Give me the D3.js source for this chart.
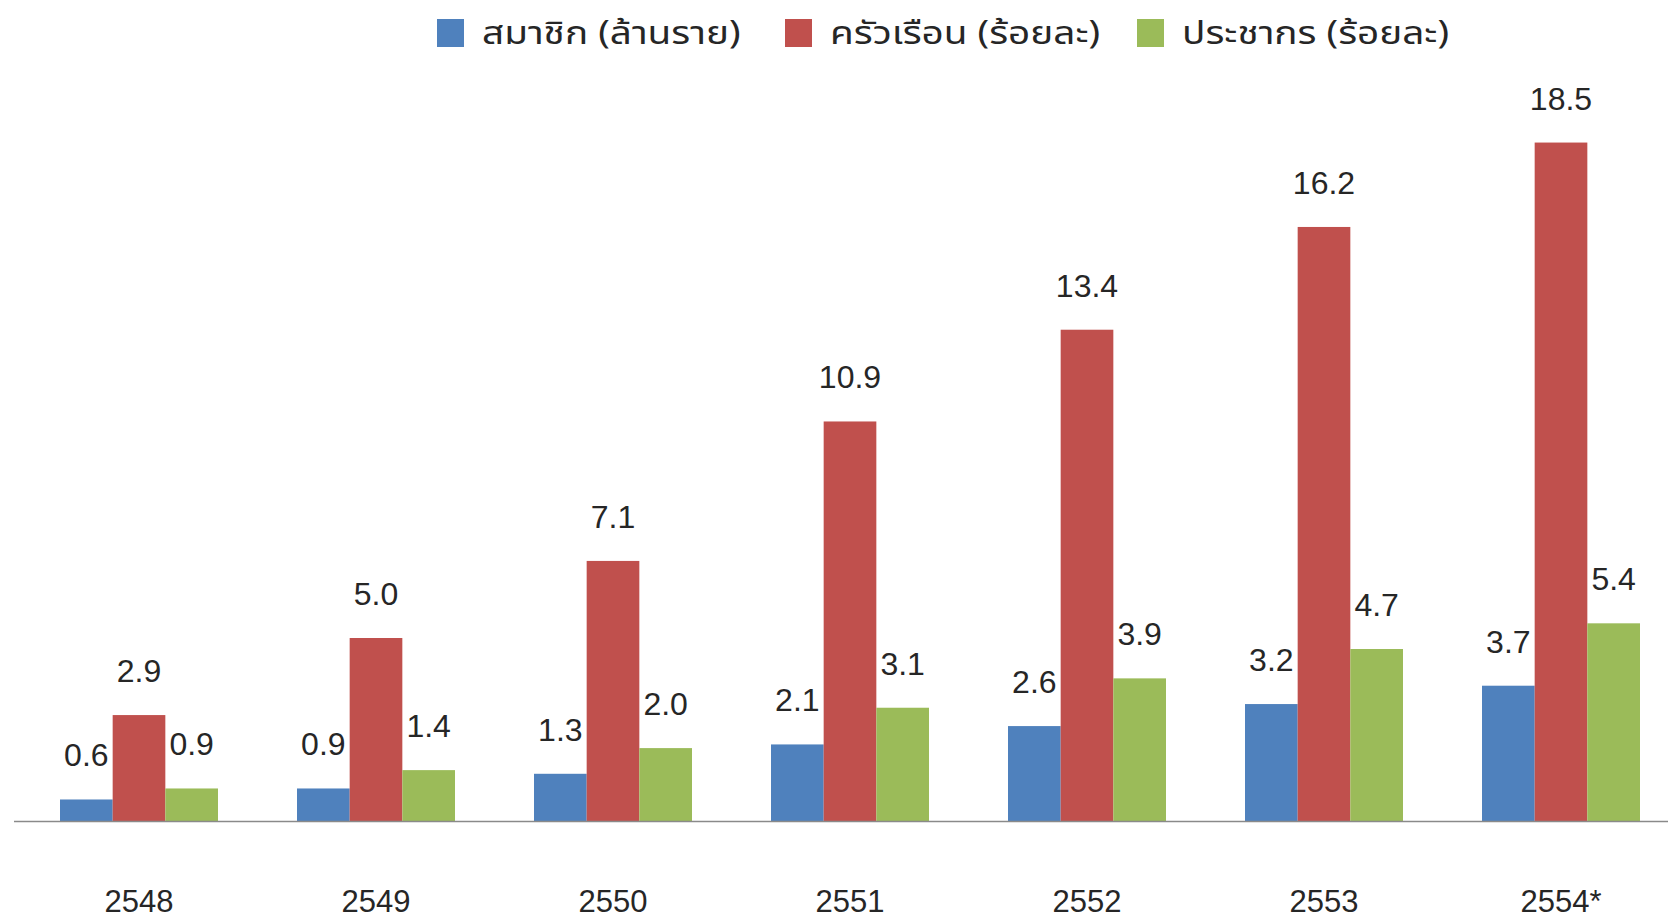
<!DOCTYPE html>
<html>
<head>
<meta charset="utf-8">
<script src="https://cdn.jsdelivr.net/npm/d3@7"></script>
<style>
  html, body { margin: 0; padding: 0; background: #fff; }
  svg { display: block; }
  text { font-family: "Liberation Sans", Arial, sans-serif; fill: #262626; }
  .legend text { font-family: "Noto Sans Thai", "Noto Sans Thai Looped", "Tahoma", "DejaVu Sans", "Noto Sans", sans-serif; }
</style>
</head>
<body>
<script>
const categories = ["2548", "2549", "2550", "2551", "2552", "2553", "2554*"];
const seriesNames = ["สมาชิก (ล้านราย)", "ครัวเรือน (ร้อยละ)", "ประชากร (ร้อยละ)"];
const members    = [0.6, 0.9, 1.3, 2.1, 2.6, 3.2, 3.7];
const households = [2.9, 5.0, 7.1, 10.9, 13.4, 16.2, 18.5];
const population = [0.9, 1.4, 2.0, 3.1, 3.9, 4.7, 5.4];
const colors = ["#4F81BD", "#C0504D", "#9BBB59"];

const W = 1668, H = 922;
const baseline = 821.5;
const seriesValues = [members, households, population];

const svg = d3.select("body").append("svg").attr("width", W).attr("height", H);

const x0 = d3.scaleBand().domain(categories).range([20.5, 1679.5])
  .paddingInner(1/3).paddingOuter(1/6);
const x1 = d3.scaleBand().domain(d3.range(seriesNames.length)).range([0, x0.bandwidth()]);
const y = d3.scaleLinear().domain([0, 20]).range([baseline, baseline - 20 * 36.7]);

const rows = categories.map((c, i) => ({ cat: c, vals: seriesValues.map((s, k) => ({ k, v: s[i] })) }));

const g = svg.append("g").selectAll("g").data(rows).join("g")
  .attr("transform", d => `translate(${x0(d.cat)},0)`);

g.selectAll("rect").data(d => d.vals).join("rect")
  .attr("x", d => x1(d.k))
  .attr("width", x1.bandwidth())
  .attr("y", d => y(d.v))
  .attr("height", d => y(0) - y(d.v))
  .attr("fill", d => colors[d.k]);

g.selectAll("text.val").data(d => d.vals).join("text")
  .attr("class", "val")
  .attr("x", d => x1(d.k) + x1.bandwidth() / 2)
  .attr("y", d => y(d.v) - 33)
  .attr("text-anchor", "middle")
  .attr("font-size", 32)
  .text(d => d.v.toFixed(1));

// axis baseline
svg.append("line").attr("x1", 14).attr("x2", W).attr("y1", baseline).attr("y2", baseline)
  .attr("stroke", "#8a8a8a").attr("stroke-width", 1.5);

// category labels
const xAxis = d3.axisBottom(x0).tickSize(0).tickPadding(0);
const ax = svg.append("g").attr("transform", `translate(0,${baseline})`).call(xAxis);
ax.select(".domain").remove();
ax.selectAll("text").attr("font-size", 31).attr("fill", "#262626")
  .attr("dy", null).attr("y", 912 - baseline).style("font-family", "'Liberation Sans', Arial, sans-serif");

// legend
const legendX = [437, 785, 1137];
const leg = svg.append("g").attr("class", "legend").selectAll("g").data(seriesNames).join("g")
  .attr("transform", (d, i) => `translate(${legendX[i]},19)`);
leg.append("rect").attr("width", 27).attr("height", 28).attr("fill", (d, i) => colors[i]);
leg.append("text").attr("font-size", 32)
  .attr("transform", "translate(45,25) scale(1.21,1)")
  .text(d => d);
</script>
</body>
</html>
